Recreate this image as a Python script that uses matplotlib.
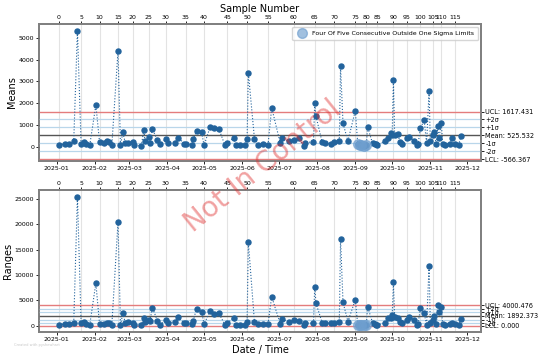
import matplotlib
matplotlib.use("Agg")
import matplotlib.pyplot as plt
import matplotlib.dates as mdates
import pandas as pd

dates = ["2025-01-03","2025-01-08","2025-01-11","2025-01-15","2025-01-18","2025-01-21","2025-01-23","2025-01-25","2025-01-28","2025-02-02",
         "2025-02-05","2025-02-09","2025-02-11","2025-02-13","2025-02-15","2025-02-20","2025-02-22","2025-02-24","2025-02-26","2025-02-28",
         "2025-03-04","2025-03-05","2025-03-11","2025-03-13","2025-03-14","2025-03-17","2025-03-18","2025-03-20","2025-03-24","2025-03-26",
         "2025-03-31","2025-04-02","2025-04-07","2025-04-10","2025-04-15","2025-04-16","2025-04-21","2025-04-22","2025-04-25","2025-04-29",
         "2025-05-01","2025-05-06","2025-05-09","2025-05-13","2025-05-18","2025-05-20","2025-05-25","2025-05-27","2025-05-30","2025-06-03",
         "2025-06-05","2025-06-06","2025-06-11","2025-06-14","2025-06-18","2025-06-22","2025-06-25","2025-07-02","2025-07-03","2025-07-09",
         "2025-07-13","2025-07-17","2025-07-21","2025-07-22","2025-07-29","2025-07-30","2025-07-31","2025-08-05","2025-08-07","2025-08-12",
         "2025-08-15","2025-08-19","2025-08-20","2025-08-22","2025-08-26","2025-09-01","2025-09-03","2025-09-05","2025-09-06","2025-09-08",
         "2025-09-10","2025-09-11","2025-09-15","2025-09-17","2025-09-18","2025-09-19","2025-09-25","2025-09-28","2025-09-30","2025-10-01",
         "2025-10-02","2025-10-03","2025-10-06","2025-10-07","2025-10-09","2025-10-13","2025-10-15","2025-10-19","2025-10-21","2025-10-22",
         "2025-10-24","2025-10-27","2025-10-29","2025-10-31","2025-11-01","2025-11-03","2025-11-04","2025-11-06","2025-11-07","2025-11-08",
         "2025-11-10","2025-11-11","2025-11-13","2025-11-17","2025-11-19","2025-11-21","2025-11-24","2025-11-26"]

means = [78, 140, 120, 262, 5330, 110, 200, 110, 64, 1918,
         200, 155, 250, 200, 78, 4400, 78, 660, 155, 155,
         230, 64, 46, 782, 262, 446, 155, 828, 294, 125,
         354, 184, 184, 414, 138, 138, 78, 340, 722, 660,
         64, 920, 846, 828, 64, 155, 414, 64, 78, 64,
         354, 3400, 354, 78, 138, 78, 1794, 155, 414, 248,
         294, 386, 46, 184, 230, 1996, 1412, 216, 184, 110,
         200, 280, 3700, 1076, 262, 1656, 120, 60, 90, 40,
         70, 920, 155, 130, 110, 78, 262, 414, 616, 550,
         3068, 538, 570, 230, 138, 386, 460, 262, 78, 110,
         846, 1228, 155, 2562, 250, 538, 690, 110, 966, 386,
         1100, 110, 78, 110, 386, 110, 78, 490]

ranges = [140, 340, 340, 600, 25500, 470, 670, 340, 80, 8400,
          270, 270, 530, 470, 140, 20500, 140, 2450, 470, 670,
          470, 140, 140, 1580, 800, 1130, 990, 3560, 990, 140,
          1130, 600, 670, 1650, 470, 470, 270, 990, 3300, 2770,
          270, 2900, 2310, 2450, 140, 470, 1580, 140, 140, 140,
          800, 16500, 670, 270, 270, 270, 5730, 270, 1260, 730,
          1130, 990, 80, 470, 470, 7700, 4430, 600, 470, 470,
          600, 800, 17100, 4620, 800, 5080, 150, 100, 200, 80,
          120, 3750, 600, 340, 140, 140, 470, 1460, 1580, 2000,
          8570, 1650, 1580, 670, 470, 1130, 1650, 1130, 140, 270,
          3430, 2450, 140, 11800, 470, 1130, 1800, 270, 4100, 2600,
          3600, 270, 140, 270, 600, 270, 140, 1260]

highlight_idx = [76, 77, 78, 79, 80]

means_limits = {"UCL": 1617.431, "Mean": 525.532, "LCL": -566.367}
ranges_limits = {"UCL": 4000.476, "Mean": 1892.373, "LCL": 0.000}
legend_label = "Four Of Five Consecutive Outside One Sigma Limits"

dt = pd.to_datetime(dates)
sample_numbers = list(range(len(dt)))
top_ticks = sample_numbers[::5]

PT_COLOR = "#22639c"
TICK_FS = 4.5
LABEL_FS = 7

fig = plt.figure(figsize=(5.4, 3.58), dpi=100)
ax1 = fig.add_axes([0.072, 0.550, 0.819, 0.383])
ax2 = fig.add_axes([0.072, 0.073, 0.819, 0.396])


def draw(ax, values, limits, ylim, ylabel, top_label, show_legend):
    ucl, mean, lcl = limits["UCL"], limits["Mean"], limits["LCL"]
    sig = (ucl - mean) / 3.0
    levels = [mean + 2 * sig, mean + sig, mean - sig, mean - 2 * sig]
    for lv in levels:
        ax.axhline(lv, color="#b9d6ea", lw=0.9, zorder=1)
    ax.axhline(ucl, color="#e47c7c", lw=1.0, zorder=1)
    ax.axhline(lcl, color="#e47c7c", lw=1.0, zorder=1)
    ax.axhline(mean, color="#555555", lw=1.0, zorder=1)
    ax.plot(dt, values, linestyle=":", lw=0.8, marker="o", ms=3.6,
            color=PT_COLOR, zorder=3)
    hx = [dt[i] for i in highlight_idx]
    hy = [values[i] for i in highlight_idx]
    ax.plot(hx, hy, "o", ms=7, color="#6f9fcf", alpha=0.65, lw=0,
            label=legend_label, zorder=4)
    ax.set_ylim(*ylim)
    ax.xaxis.set_major_locator(mdates.MonthLocator())
    ax.xaxis.set_major_formatter(mdates.DateFormatter("%Y-%m"))
    ax.tick_params(labelsize=TICK_FS, length=2, width=0.6, pad=1.5)
    ax.set_ylabel(ylabel, fontsize=LABEL_FS, labelpad=1)
    for s in ax.spines.values():
        s.set_color("#808080")
        s.set_linewidth(1.1)

    # top axis: sample number
    axt = ax.twiny()
    axt.set_xlim(ax.get_xlim())
    axt.set_xticks([mdates.date2num(dt[i]) for i in top_ticks])
    axt.set_xticklabels([str(i) for i in top_ticks])
    axt.tick_params(labelsize=TICK_FS, length=2, width=0.6, pad=1)
    axt.grid(axis="x", color="#e3e3e3", lw=0.8)
    axt.set_axisbelow(True)
    for s in axt.spines.values():
        s.set_color("#808080")
        s.set_linewidth(1.1)
    if top_label:
        axt.set_xlabel(top_label, fontsize=LABEL_FS, labelpad=2)

    # right axis: control limit labels
    axr = ax.twinx()
    axr.set_ylim(ax.get_ylim())
    axr.set_yticks([ucl] + levels[:2] + [mean] + levels[2:] + [lcl])
    axr.set_yticklabels([f"UCL: {ucl:.3f}", "+2σ", "+1σ", f"Mean: {mean:.3f}",
                         "-1σ", "-2σ", f"LCL: {lcl:.3f}"])
    axr.tick_params(labelsize=4.7, length=2, width=0.6, pad=1)
    for s in axr.spines.values():
        s.set_color("#808080")
        s.set_linewidth(1.1)
    ax.set_zorder(axt.get_zorder() + 1)
    ax.patch.set_visible(False)

    if show_legend:
        ax.legend(loc="upper right", fontsize=4.5, frameon=True,
                  borderpad=0.6, handletextpad=0.6, markerscale=1.0)


draw(ax1, means, means_limits, (-660, 5640), "Means", "Sample Number", True)
draw(ax2, ranges, ranges_limits, (-1250, 26800), "Ranges", None, False)
ax2.set_xlabel("Date / Time", fontsize=LABEL_FS, labelpad=2)

fig.text(0.487, 0.535, "Not In Control", fontsize=20, color="#e03030",
         alpha=0.45, rotation=39, ha="center", va="center")
fig.text(0.025, 0.033, "Created with pyshewhart", fontsize=2.6, color="#c8c8c8")

fig.savefig("out.png", dpi=100)
